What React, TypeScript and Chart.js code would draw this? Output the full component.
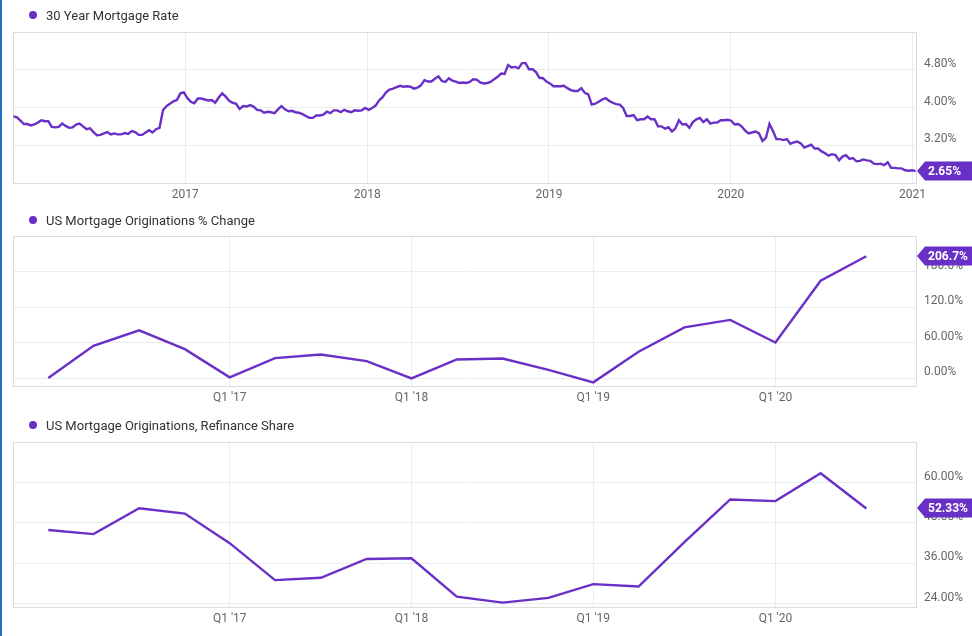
import React, { useEffect, useRef } from 'react';
import { Chart, registerables } from 'chart.js';

Chart.register(...registerables);

// ---------- DATA ----------
const PURPLE = '#6930c8';

// 30 Year Mortgage Rate, weekly, first observation date below
const RATE_START = '2016-01-21';
const rate2016 = [
  3.81, 3.79,
  3.72, 3.65, 3.65, 3.62,
  3.64, 3.68, 3.73, 3.71, 3.71,
  3.59, 3.58, 3.59, 3.66,
  3.61, 3.57, 3.58, 3.64,
  3.66, 3.60, 3.54, 3.56, 3.48,
  3.41, 3.42, 3.45, 3.48,
  3.43, 3.45, 3.43, 3.43,
  3.46, 3.44, 3.50, 3.48, 3.42,
  3.42, 3.47, 3.52, 3.47,
  3.54, 3.57, 3.94, 4.03,
  4.08, 4.13, 4.16, 4.30, 4.32,
];
const rate2017 = [
  4.20, 4.12, 4.09, 4.19,
  4.19, 4.17, 4.15, 4.16,
  4.10, 4.21, 4.30, 4.23, 4.14,
  4.10, 4.08, 3.97, 4.03,
  4.02, 4.05, 4.02, 3.95,
  3.94, 3.89, 3.91, 3.90, 3.88,
  3.96, 4.03, 3.96, 3.92,
  3.93, 3.90, 3.89, 3.86, 3.82,
  3.78, 3.78, 3.83, 3.83,
  3.85, 3.91, 3.88, 3.94,
  3.94, 3.90, 3.95, 3.92, 3.90,
  3.94, 3.93, 3.94, 3.99,
];
const rate2018 = [
  3.95, 3.99, 4.04, 4.15,
  4.22, 4.32, 4.38, 4.40,
  4.43, 4.46, 4.44, 4.45, 4.44,
  4.40, 4.42, 4.47, 4.58,
  4.55, 4.55, 4.61, 4.66, 4.56,
  4.54, 4.62, 4.57, 4.55,
  4.52, 4.53, 4.52, 4.54,
  4.60, 4.59, 4.53, 4.51, 4.52,
  4.54, 4.60, 4.65, 4.72,
  4.71, 4.90, 4.85, 4.86,
  4.83, 4.94, 4.94, 4.81, 4.81,
  4.75, 4.63, 4.62, 4.55,
];
const rate2019 = [
  4.51, 4.45, 4.45, 4.45, 4.46,
  4.41, 4.37, 4.35, 4.35,
  4.41, 4.31, 4.28, 4.06,
  4.08, 4.12, 4.17, 4.20,
  4.14, 4.10, 4.07, 4.06, 3.99,
  3.82, 3.82, 3.84, 3.73,
  3.75, 3.75, 3.81, 3.75,
  3.75, 3.60, 3.60, 3.55, 3.58,
  3.49, 3.56, 3.73, 3.64,
  3.65, 3.57, 3.69, 3.75, 3.78,
  3.69, 3.75, 3.66, 3.68,
  3.68, 3.73, 3.73, 3.74,
];
const rate2020 = [
  3.72, 3.64, 3.65, 3.60, 3.51,
  3.45, 3.47, 3.49, 3.45,
  3.29, 3.36, 3.65, 3.50,
  3.33, 3.33, 3.31, 3.33, 3.23,
  3.26, 3.28, 3.24, 3.15,
  3.18, 3.21, 3.13, 3.13,
  3.07, 3.03, 2.98, 3.01, 2.99,
  2.88, 2.96, 2.99, 2.91,
  2.93, 2.86, 2.87, 2.90,
  2.88, 2.87, 2.81, 2.80, 2.81,
  2.78, 2.84, 2.72, 2.72,
  2.71, 2.71, 2.67, 2.66, 2.67,
];
const rate2021 = [2.65];

// Quarterly series (quarter-end dates)
const quarterDates = [
  '2016-03-31', '2016-06-30', '2016-09-30', '2016-12-31',
  '2017-03-31', '2017-06-30', '2017-09-30', '2017-12-31',
  '2018-03-31', '2018-06-30', '2018-09-30', '2018-12-31',
  '2019-03-31', '2019-06-30', '2019-09-30', '2019-12-31',
  '2020-03-31', '2020-06-30', '2020-09-30',
];
const originationsChange = [
  0.0, 54.6, 81.0, 49.0,
  1.2, 33.8, 40.0, 28.7,
  -0.5, 31.5, 33.2, 14.0,
  -7.3, 44.5, 86.0, 98.6,
  60.3, 165.0, 206.7,
];
const refinanceShare = [
  45.9, 44.7, 52.4, 50.8,
  42.0, 31.0, 31.7, 37.3,
  37.5, 26.1, 24.3, 25.7,
  29.8, 29.1, 42.3, 55.0,
  54.5, 62.8, 52.33,
];

// Axis ranges & ticks
const X_START = '2016-01-20';
const X_END = '2021-01-08';
const yearTickDates = ['2017-01-01', '2018-01-01', '2019-01-01', '2020-01-01', '2021-01-01'];
const yearTickLabels = ['2017', '2018', '2019', '2020', '2021'];
const quarterTickDates = ['2017-03-31', '2018-03-31', '2019-03-31', '2020-03-31'];
const quarterTickLabels = ["Q1 '17", "Q1 '18", "Q1 '19", "Q1 '20"];

const rateRange = [2.4, 5.6];
const rateTicks = [2.4, 3.2, 4.0, 4.8];
const rateTickLabels = ['2.40%', '3.20%', '4.00%', '4.80%'];
const changeRange = [-13.5, 241];
const changeTicks = [0, 60, 120, 180];
const changeTickLabels = ['0.00%', '60.00%', '120.0%', '180.0%'];
const shareRange = [23, 72.1];
const shareTicks = [24, 36, 48, 60];
const shareTickLabels = ['24.00%', '36.00%', '48.00%', '60.00%'];

const titles = [
  '30 Year Mortgage Rate',
  'US Mortgage Originations % Change',
  'US Mortgage Originations, Refinance Share',
];
const badgeLabels = ['2.65%', '206.7%', '52.33%'];

// ---------- HELPERS ----------
function decYear(iso: string | number): number {
  const d = typeof iso === 'number' ? new Date(iso) : new Date(iso + 'T00:00:00Z');
  const y = d.getUTCFullYear();
  const s = Date.UTC(y, 0, 1);
  const e = Date.UTC(y + 1, 0, 1);
  return y + (d.getTime() - s) / (e - s);
}

function weeklyPoints() {
  const all = [...rate2016, ...rate2017, ...rate2018, ...rate2019, ...rate2020, ...rate2021];
  const t0 = Date.parse(RATE_START + 'T00:00:00Z');
  return all.map((v, i) => ({ x: decYear(t0 + i * 7 * 86400000), y: v }));
}

function quarterPoints(vals: number[]) {
  return vals.map((v, i) => ({ x: decYear(quarterDates[i]), y: v }));
}

const FONT = 'Roboto, "Noto Sans", sans-serif';

const framePlugin = {
  id: 'frame',
  beforeDatasetsDraw(chart: any) {
    const { ctx, chartArea: a } = chart;
    ctx.save();
    ctx.strokeStyle = '#dcdcdc';
    ctx.lineWidth = 1;
    ctx.strokeRect(Math.round(a.left) + 0.5, Math.round(a.top) + 0.5, Math.round(a.right - a.left), Math.round(a.bottom - a.top));
    ctx.restore();
  },
};

const badgePlugin = {
  id: 'lastBadge',
  afterDraw(chart: any, _args: any, opts: any) {
    const ds = chart.data.datasets[0].data;
    const last = ds[ds.length - 1];
    const y = Math.round(chart.scales.y.getPixelForValue(last.y));
    const x0 = chart.chartArea.right + 1;
    const ctx = chart.ctx;
    const h = 9.5;
    ctx.save();
    ctx.fillStyle = PURPLE;
    ctx.beginPath();
    ctx.moveTo(x0, y);
    ctx.lineTo(x0 + 8, y - h);
    ctx.lineTo(chart.width, y - h);
    ctx.lineTo(chart.width, y + h);
    ctx.lineTo(x0 + 8, y + h);
    ctx.closePath();
    ctx.fill();
    ctx.fillStyle = '#ffffff';
    ctx.font = 'bold 12px ' + FONT;
    ctx.textBaseline = 'middle';
    ctx.textAlign = 'left';
    ctx.fillText(opts.text, x0 + 11, y + 1);
    ctx.restore();
  },
};

function makeConfig(p: {
  points: { x: number; y: number }[];
  xTicks: number[];
  xLabels: string[];
  yRange: number[];
  yTicks: number[];
  yLabels: string[];
  badge: string;
  padTop: number;
  padBottom: number;
}): any {
  return {
    type: 'line',
    data: {
      datasets: [
        {
          data: p.points,
          borderColor: PURPLE,
          borderWidth: 2.4,
          pointRadius: 0,
          tension: 0,
          fill: false,
        },
      ],
    },
    plugins: [framePlugin, badgePlugin],
    options: {
      responsive: false,
      animation: false,
      events: [],
      layout: { padding: { top: p.padTop, bottom: p.padBottom, left: 13, right: 0 } },
      plugins: {
        legend: { display: false },
        tooltip: { enabled: false },
        lastBadge: { text: p.badge },
      },
      scales: {
        x: {
          type: 'linear',
          min: decYear(X_START),
          max: decYear(X_END),
          afterBuildTicks: (s: any) => {
            s.ticks = p.xTicks.map((v) => ({ value: v }));
          },
          afterFit: (s: any) => {
            s.height = 22;
          },
          grid: { color: '#ececec', drawTicks: false },
          border: { display: false },
          ticks: {
            autoSkip: false,
            maxRotation: 0,
            padding: 5,
            color: '#666',
            font: { family: FONT, size: 12 },
            callback: (_v: any, i: number) => p.xLabels[i],
          },
        },
        y: {
          type: 'linear',
          position: 'right',
          min: p.yRange[0],
          max: p.yRange[1],
          afterBuildTicks: (s: any) => {
            s.ticks = p.yTicks.map((v) => ({ value: v }));
          },
          afterFit: (s: any) => {
            s.width = 56;
          },
          grid: { color: '#ececec', drawTicks: false },
          border: { display: false },
          ticks: {
            padding: 8,
            labelOffset: -6,
            color: '#666',
            font: { family: FONT, size: 12 },
            callback: (_v: any, i: number) => p.yLabels[i],
          },
        },
      },
    },
  };
}

function Panel(props: { top: number; height: number; title: string; config: any }) {
  const ref = useRef<HTMLCanvasElement>(null);
  useEffect(() => {
    const chart = new Chart(ref.current as HTMLCanvasElement, props.config);
    return () => chart.destroy();
  }, []);
  return (
    <div style={{ position: 'absolute', left: 0, top: props.top, width: 972, height: props.height }}>
      <canvas ref={ref} width={972} height={props.height} style={{ display: 'block', width: 972, height: props.height }} />
      <div
        style={{
          position: 'absolute',
          left: 29,
          top: 7,
          height: 16,
          display: 'flex',
          alignItems: 'center',
          fontFamily: FONT,
          fontSize: 13,
          color: '#333',
          whiteSpace: 'nowrap',
        }}
      >
        <span style={{ width: 8, height: 8, borderRadius: 4, background: PURPLE, display: 'inline-block', marginRight: 9 }} />
        <span>{props.title}</span>
      </div>
    </div>
  );
}

export default function App() {
  const xYears = yearTickDates.map(decYear);
  const xQuarters = quarterTickDates.map(decYear);
  const c1 = makeConfig({
    points: weeklyPoints(),
    xTicks: xYears,
    xLabels: yearTickLabels,
    yRange: rateRange,
    yTicks: rateTicks,
    yLabels: rateTickLabels,
    badge: badgeLabels[0],
    padTop: 32,
    padBottom: 0,
  });
  const c2 = makeConfig({
    points: quarterPoints(originationsChange),
    xTicks: xQuarters,
    xLabels: quarterTickLabels,
    yRange: changeRange,
    yTicks: changeTicks,
    yLabels: changeTickLabels,
    badge: badgeLabels[1],
    padTop: 31,
    padBottom: 2,
  });
  const c3 = makeConfig({
    points: quarterPoints(refinanceShare),
    xTicks: xQuarters,
    xLabels: quarterTickLabels,
    yRange: shareRange,
    yTicks: shareTicks,
    yLabels: shareTickLabels,
    badge: badgeLabels[2],
    padTop: 32,
    padBottom: 7,
  });
  return (
    <div style={{ position: 'fixed', left: 0, top: 0, width: 972, height: 636, background: '#fff', overflow: 'hidden' }}>
      <Panel top={0} height={205} title={titles[0]} config={c1} />
      <Panel top={205} height={205} title={titles[1]} config={c2} />
      <Panel top={410} height={226} title={titles[2]} config={c3} />
      <div style={{ position: 'absolute', left: 0, top: 0, width: 2, height: 636, background: '#1f6fc0' }} />
    </div>
  );
}
